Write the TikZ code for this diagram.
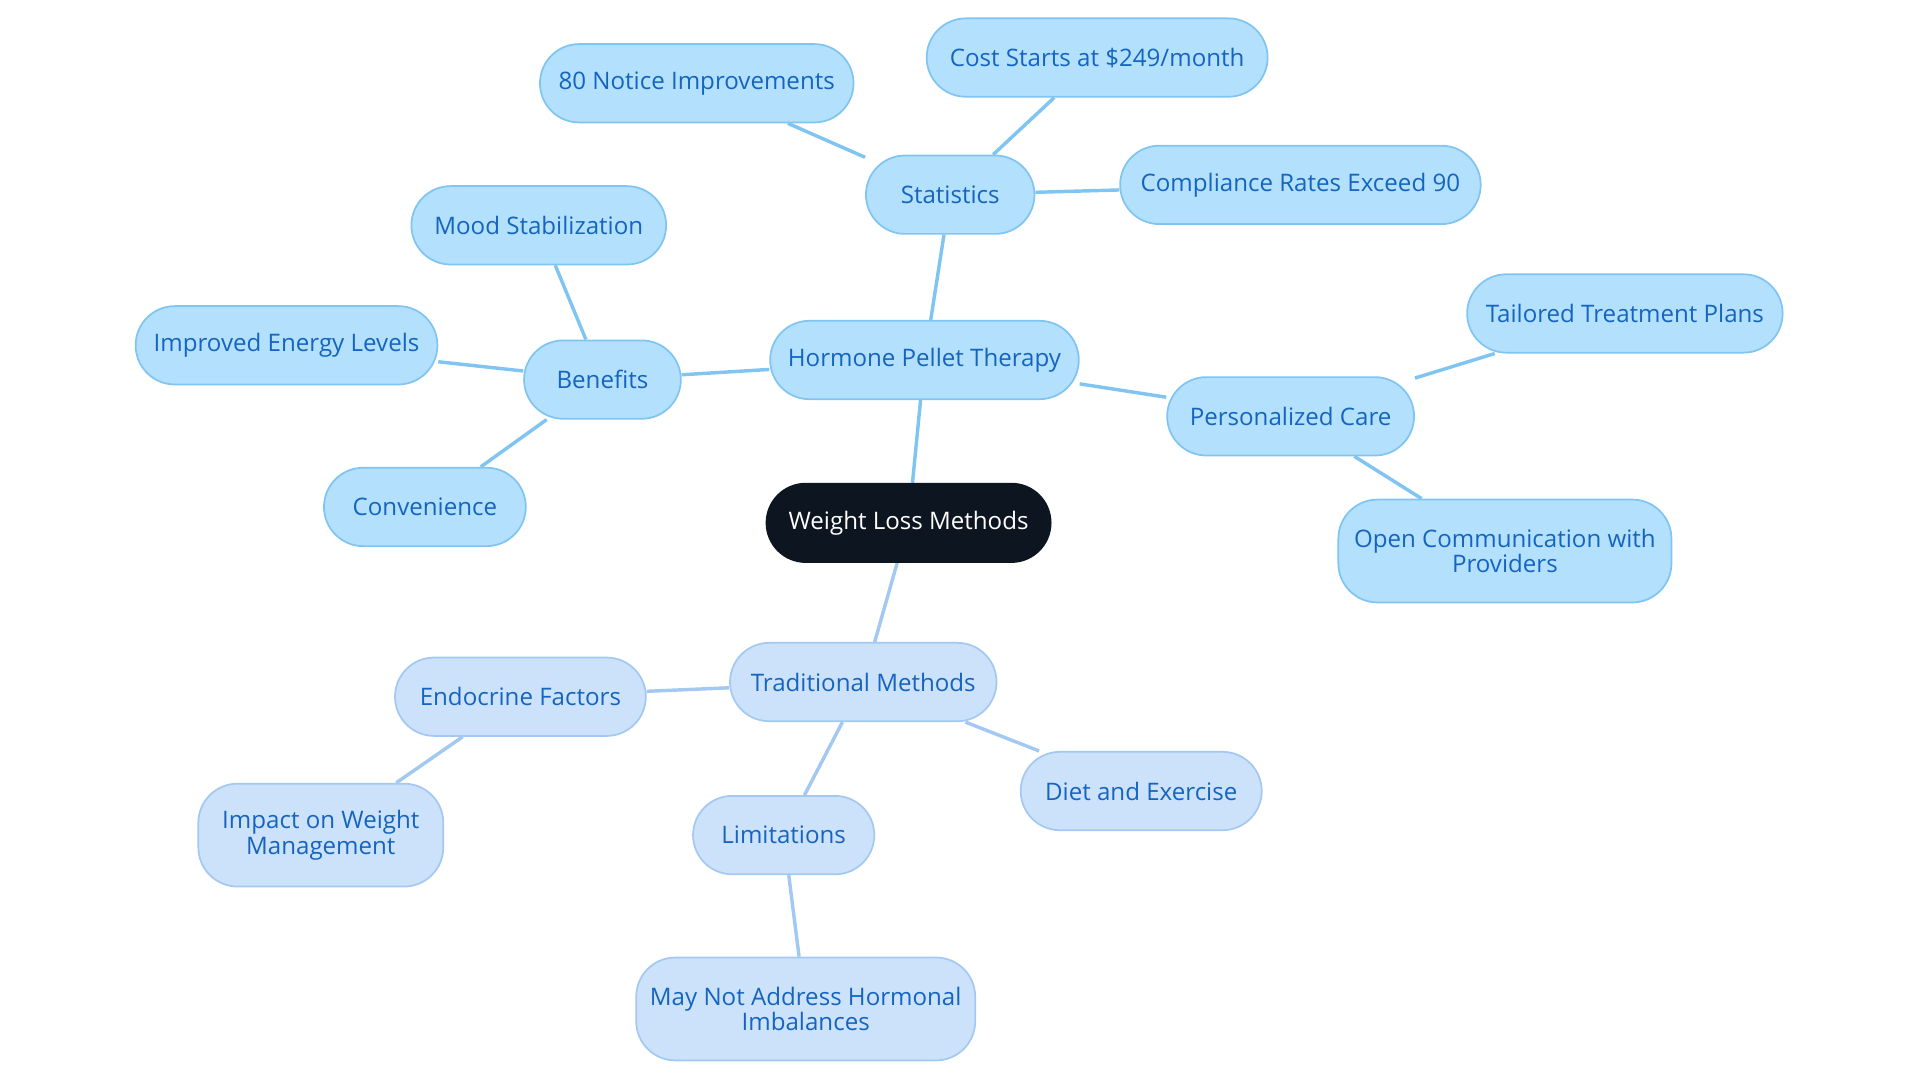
\documentclass[tikz,border=0pt]{standalone}
\usepackage{fontspec}
\setmainfont{Open Sans}
\usetikzlibrary{backgrounds}
\definecolor{bfill}{HTML}{B3E0FD}
\definecolor{bline}{HTML}{80C4F2}
\definecolor{lfill}{HTML}{CCE2FB}
\definecolor{lline}{HTML}{A3C8F2}
\definecolor{txt}{HTML}{1565C0}
\definecolor{dark}{HTML}{0D1520}
\tikzset{
 bnode/.style={draw=bline,fill=bfill,text=txt,rounded corners=0.4cm,minimum height=0.8cm,align=center,font=\fontsize{7}{7.5}\selectfont,line width=0.5pt},
 lnode/.style={bnode,draw=lline,fill=lfill},
 bedge/.style={draw=bline,line width=1pt},
 ledge/.style={draw=lline,line width=1pt}
}
\begin{document}
\begin{tikzpicture}[x=0.0125cm,y=-0.0125cm]
\useasboundingbox (0,0) rectangle (1568,884);
\node[bnode,fill=dark,draw=dark,text=white,minimum width=2.9cm] (wlm) at (742,427) {Weight Loss Methods};
\node[bnode,minimum width=3.15cm] (hpt) at (755,294) {Hormone Pellet Therapy};
\node[bnode,minimum width=1.72cm] (st) at (776,159) {Statistics};
\node[bnode,minimum width=3.2cm] (n80) at (569,68) {80 Notice Improvements};
\node[bnode,minimum width=3.48cm] (cost) at (896,47) {Cost Starts at \$249/month};
\node[bnode,minimum width=3.68cm] (comp) at (1062,151) {Compliance Rates Exceed 90};
\node[bnode,minimum width=1.6cm] (ben) at (492,310) {Benefits};
\node[bnode,minimum width=2.6cm] (mood) at (440,184) {Mood Stabilization};
\node[bnode,minimum width=3.08cm] (imp) at (234,282) {Improved Energy Levels};
\node[bnode,minimum width=2.06cm] (conv) at (347,414) {Convenience};
\node[bnode,minimum width=2.52cm] (pc) at (1054,340) {Personalized Care};
\node[bnode,minimum width=3.22cm] (tai) at (1327,256) {Tailored Treatment Plans};
\node[bnode,minimum width=3.4cm,minimum height=1.05cm] (oc) at (1229,450) {Open Communication with\\Providers};
\node[lnode,minimum width=2.72cm] (tm) at (705,557) {Traditional Methods};
\node[lnode,minimum width=2.56cm] (end) at (425,569) {Endocrine Factors};
\node[lnode,minimum width=2.5cm,minimum height=1.05cm] (iw) at (262,682) {Impact on Weight\\Management};
\node[lnode,minimum width=2.46cm] (de) at (932,646) {Diet and Exercise};
\node[lnode,minimum width=1.85cm] (lim) at (640,682) {Limitations};
\node[lnode,minimum width=3.46cm,minimum height=1.05cm] (mn) at (658,824) {May Not Address Hormonal\\Imbalances};
\begin{pgfonlayer}{background}
\draw[bedge] (wlm)--(hpt) (hpt)--(st) (st)--(n80) (st)--(cost) (st)--(comp)
 (hpt)--(ben) (ben)--(mood) (ben)--(imp) (ben)--(conv)
 (hpt)--(pc) (pc)--(tai) (pc)--(oc);
\draw[ledge] (wlm)--(tm) (tm)--(end) (end)--(iw) (tm)--(de) (tm)--(lim) (lim)--(mn);
\end{pgfonlayer}
\end{tikzpicture}
\end{document}
